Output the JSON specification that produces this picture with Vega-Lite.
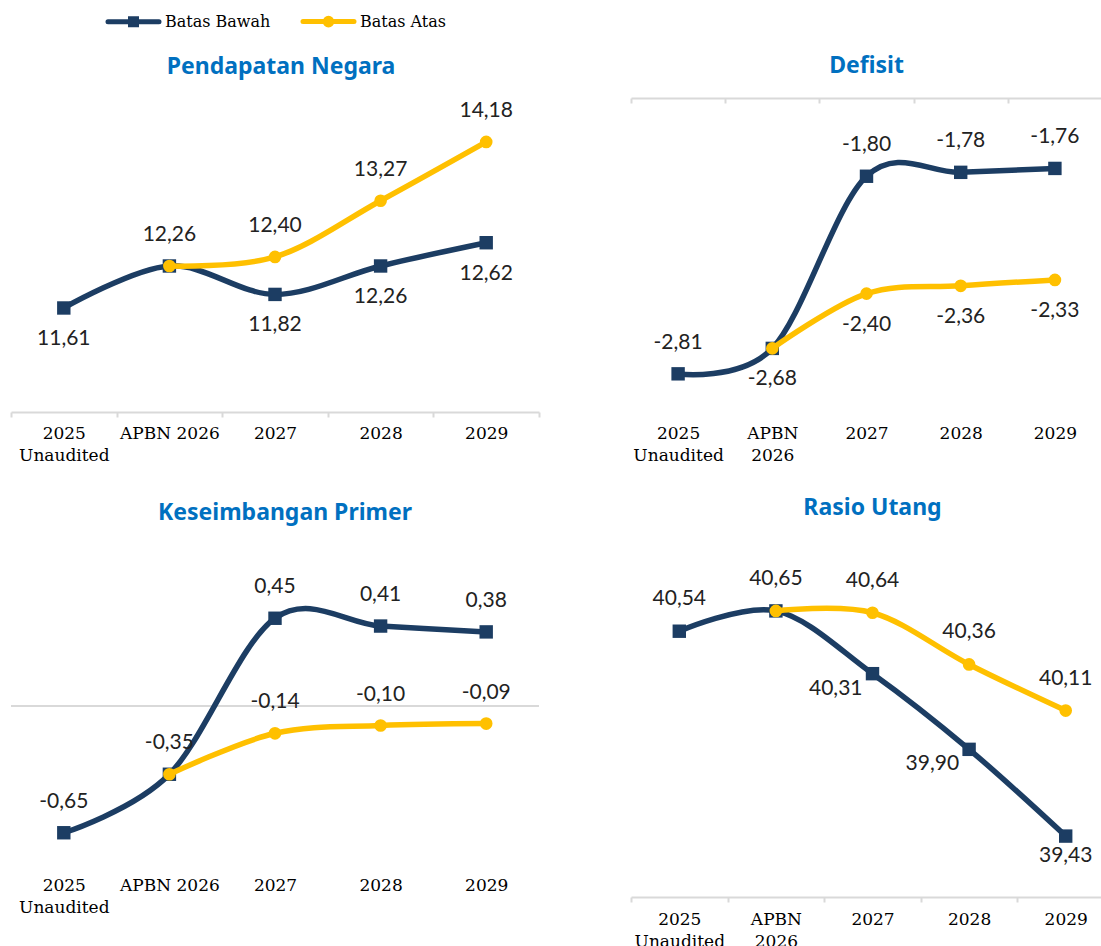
{
  "$schema": "https://vega.github.io/schema/vega-lite/v6.json",
  "padding": {"left": 10, "top": 13, "right": 0, "bottom": 0},
  "background": "white",
  "columns": 2,
  "spacing": {"row": 138, "column": 92},
  "bounds": "flush",
  "config": {
    "view": {"stroke": null},
    "locale": {"number": {"decimal": ",", "thousands": ".", "grouping": [3], "currency": ["", ""], "minus": "-"}},
    "axis": {"labelFont": "DejaVu Serif", "labelFontSize": 17, "labelColor": "#000000", "labelLineHeight": 22, "labelAngle": 0, "domainColor": "#d9d9d9", "domainWidth": 2, "tickColor": "#d9d9d9", "tickWidth": 2, "tickSize": 5, "tickBand": "extent", "title": null, "grid": false, "labelOverlap": false, "labelLimit": 0, "labelPadding": 8},
    "title": {"font": "Noto Sans", "fontSize": 23, "fontWeight": "bold", "color": "#0070c0", "anchor": "middle", "baseline": "bottom"}
  },
  "datasets": {
    "d": [
      {"panel": "P", "cat": "2025 Unaudited", "series": "Batas Bawah", "value": 11.61, "lbl": "below"},
      {"panel": "P", "cat": "APBN 2026", "series": "Batas Bawah", "value": 12.26, "lbl": "above"},
      {"panel": "P", "cat": "2027", "series": "Batas Bawah", "value": 11.82, "lbl": "below"},
      {"panel": "P", "cat": "2028", "series": "Batas Bawah", "value": 12.26, "lbl": "below"},
      {"panel": "P", "cat": "2029", "series": "Batas Bawah", "value": 12.62, "lbl": "below"},
      {"panel": "P", "cat": "APBN 2026", "series": "Batas Atas", "value": 12.26, "lbl": "none"},
      {"panel": "P", "cat": "2027", "series": "Batas Atas", "value": 12.40, "lbl": "above"},
      {"panel": "P", "cat": "2028", "series": "Batas Atas", "value": 13.27, "lbl": "above"},
      {"panel": "P", "cat": "2029", "series": "Batas Atas", "value": 14.18, "lbl": "above"},
      {"panel": "D", "cat": "2025 Unaudited", "series": "Batas Bawah", "value": -2.81, "lbl": "above"},
      {"panel": "D", "cat": "APBN 2026", "series": "Batas Bawah", "value": -2.68, "lbl": "below"},
      {"panel": "D", "cat": "2027", "series": "Batas Bawah", "value": -1.80, "lbl": "above"},
      {"panel": "D", "cat": "2028", "series": "Batas Bawah", "value": -1.78, "lbl": "above"},
      {"panel": "D", "cat": "2029", "series": "Batas Bawah", "value": -1.76, "lbl": "above"},
      {"panel": "D", "cat": "APBN 2026", "series": "Batas Atas", "value": -2.68, "lbl": "none"},
      {"panel": "D", "cat": "2027", "series": "Batas Atas", "value": -2.40, "lbl": "below"},
      {"panel": "D", "cat": "2028", "series": "Batas Atas", "value": -2.36, "lbl": "below"},
      {"panel": "D", "cat": "2029", "series": "Batas Atas", "value": -2.33, "lbl": "below"},
      {"panel": "K", "cat": "2025 Unaudited", "series": "Batas Bawah", "value": -0.65, "lbl": "above"},
      {"panel": "K", "cat": "APBN 2026", "series": "Batas Bawah", "value": -0.35, "lbl": "above"},
      {"panel": "K", "cat": "2027", "series": "Batas Bawah", "value": 0.45, "lbl": "above"},
      {"panel": "K", "cat": "2028", "series": "Batas Bawah", "value": 0.41, "lbl": "above"},
      {"panel": "K", "cat": "2029", "series": "Batas Bawah", "value": 0.38, "lbl": "above"},
      {"panel": "K", "cat": "APBN 2026", "series": "Batas Atas", "value": -0.35, "lbl": "none"},
      {"panel": "K", "cat": "2027", "series": "Batas Atas", "value": -0.14, "lbl": "above"},
      {"panel": "K", "cat": "2028", "series": "Batas Atas", "value": -0.10, "lbl": "above"},
      {"panel": "K", "cat": "2029", "series": "Batas Atas", "value": -0.09, "lbl": "above"},
      {"panel": "R", "cat": "2025 Unaudited", "series": "Batas Bawah", "value": 40.54, "lbl": "above"},
      {"panel": "R", "cat": "APBN 2026", "series": "Batas Bawah", "value": 40.65, "lbl": "above"},
      {"panel": "R", "cat": "2027", "series": "Batas Bawah", "value": 40.31, "lbl": "left"},
      {"panel": "R", "cat": "2028", "series": "Batas Bawah", "value": 39.90, "lbl": "left"},
      {"panel": "R", "cat": "2029", "series": "Batas Bawah", "value": 39.43, "lbl": "near"},
      {"panel": "R", "cat": "APBN 2026", "series": "Batas Atas", "value": 40.65, "lbl": "none"},
      {"panel": "R", "cat": "2027", "series": "Batas Atas", "value": 40.64, "lbl": "above"},
      {"panel": "R", "cat": "2028", "series": "Batas Atas", "value": 40.36, "lbl": "above"},
      {"panel": "R", "cat": "2029", "series": "Batas Atas", "value": 40.11, "lbl": "above"}
    ]
  },
  "concat": [
    {
      "width": 528, "height": 314,
      "title": {"text": "Pendapatan Negara", "offset": 19, "dx": 6},
      "data": {"name": "d"},
      "transform": [{"filter": "datum.panel === 'P'"}],
      "resolve": {"axis": {"x": "independent"}},
      "encoding": {"y": {"field": "value", "type": "quantitative", "scale": {"domain": [10, 14.86], "zero": false, "nice": false}, "axis": null}},
      "layer": [
        {"transform": [{"filter": "datum.series === 'Batas Bawah'"}], "mark": {"type": "line", "interpolate": "cardinal", "strokeWidth": 5.5},
         "encoding": {
           "x": {"field": "cat", "type": "nominal", "sort": ["2025 Unaudited", "APBN 2026", "2027", "2028", "2029"], "scale": {"type": "band", "paddingInner": 0, "paddingOuter": 0}, "bandPosition": 0.5,
                 "axis": {"orient": "bottom", "labelExpr": "datum.value === '2025 Unaudited' ? ['2025', 'Unaudited'] : datum.label", "labelPadding": 8}},
           "color": {"field": "series", "type": "nominal", "scale": {"domain": ["Batas Bawah", "Batas Atas"], "range": ["#1c3d63", "#ffc000"]},
             "legend": {"orient": "none", "legendX": 114, "legendY": -85, "direction": "horizontal", "title": null,
               "labelFont": "DejaVu Serif", "labelFontSize": 16, "labelColor": "#000000", "symbolSize": 144, "symbolStrokeWidth": 5,
               "labelOffset": 23, "columnPadding": 22, "padding": 0,
               "encode": {"symbols": {"update": {
                 "shape": {"signal": "datum.value === 'Batas Bawah' ? 'M-4.25,0H4.25M-0.5,-0.5H0.5V0.5H-0.5Z' : 'M-4.25,0H4.25M0.55,0A0.55,0.55,0,1,1,-0.55,0A0.55,0.55,0,1,1,0.55,0Z'"},
                 "fill": {"signal": "datum.value === 'Batas Bawah' ? '#1c3d63' : '#ffc000'"},
                 "stroke": {"signal": "datum.value === 'Batas Bawah' ? '#1c3d63' : '#ffc000'"},
                 "strokeWidth": {"value": 5}, "strokeCap": {"value": "round"}, "opacity": {"value": 1}, "fillOpacity": {"value": 1}, "strokeOpacity": {"value": 1}
               }}}
             }}
         }},
        {"transform": [{"filter": "datum.series === 'Batas Bawah'"}], "mark": {"type": "point", "shape": "square", "filled": true, "size": 180, "opacity": 1},
         "encoding": {"x": {"field": "cat", "type": "nominal", "sort": ["2025 Unaudited", "APBN 2026", "2027", "2028", "2029"], "bandPosition": 0.5, "axis": null},
           "color": {"field": "series", "type": "nominal", "legend": null}}},
        {"transform": [{"filter": "datum.series === 'Batas Atas'"}], "mark": {"type": "line", "interpolate": "cardinal", "strokeWidth": 5.5},
         "encoding": {"x": {"field": "cat", "type": "nominal", "sort": ["2025 Unaudited", "APBN 2026", "2027", "2028", "2029"], "bandPosition": 0.5, "axis": null},
           "color": {"field": "series", "type": "nominal", "legend": null}}},
        {"transform": [{"filter": "datum.series === 'Batas Atas'"}], "mark": {"type": "point", "shape": "circle", "filled": true, "size": 160, "opacity": 1},
         "encoding": {"x": {"field": "cat", "type": "nominal", "sort": ["2025 Unaudited", "APBN 2026", "2027", "2028", "2029"], "bandPosition": 0.5, "axis": null},
           "color": {"field": "series", "type": "nominal", "legend": null}}},
        {"transform": [{"filter": "datum.lbl === 'above'"}], "mark": {"type": "text", "font": "Lato", "fontSize": 21, "color": "#222222", "baseline": "middle", "dy": -31},
         "encoding": {"x": {"field": "cat", "type": "nominal", "sort": ["2025 Unaudited", "APBN 2026", "2027", "2028", "2029"], "bandPosition": 0.5, "axis": null},
           "text": {"field": "value", "type": "quantitative", "format": ".2f"}}},
        {"transform": [{"filter": "datum.lbl === 'below'"}], "mark": {"type": "text", "font": "Lato", "fontSize": 21, "color": "#222222", "baseline": "middle", "dy": 31},
         "encoding": {"x": {"field": "cat", "type": "nominal", "sort": ["2025 Unaudited", "APBN 2026", "2027", "2028", "2029"], "bandPosition": 0.5, "axis": null},
           "text": {"field": "value", "type": "quantitative", "format": ".2f"}}}
      ]
    },
    {
      "width": 471, "height": 313,
      "title": {"text": "Defisit", "offset": 19},
      "data": {"name": "d"},
      "transform": [{"filter": "datum.panel === 'D'"}],
      "resolve": {"axis": {"x": "independent"}},
      "encoding": {"y": {"field": "value", "type": "quantitative", "scale": {"domain": [-3.0, -1.4], "zero": false, "nice": false}, "axis": null}},
      "layer": [
        {"transform": [{"filter": "datum.series === 'Batas Bawah'"}], "mark": {"type": "line", "interpolate": "cardinal", "strokeWidth": 5.5},
         "encoding": {
           "x": {"field": "cat", "type": "nominal", "sort": ["2025 Unaudited", "APBN 2026", "2027", "2028", "2029"], "scale": {"type": "band", "paddingInner": 0, "paddingOuter": 0}, "bandPosition": 0.5,
                 "axis": {"orient": "bottom", "domain": false, "ticks": false, "labelPadding": 14, "labelExpr": "datum.value === '2025 Unaudited' ? ['2025', 'Unaudited'] : datum.value === 'APBN 2026' ? ['APBN', '2026'] : datum.label"}},
           "color": {"field": "series", "type": "nominal", "legend": null}
         }},
        {"transform": [{"filter": "datum.series === 'Batas Bawah'"}], "mark": {"type": "point", "shape": "square", "filled": true, "size": 180, "opacity": 1},
         "encoding": {"x": {"field": "cat", "type": "nominal", "sort": ["2025 Unaudited", "APBN 2026", "2027", "2028", "2029"], "bandPosition": 0.5,
             "axis": {"orient": "top", "labels": false, "domain": true, "ticks": true, "tickSize": -5}},
           "color": {"field": "series", "type": "nominal", "legend": null}}},
        {"transform": [{"filter": "datum.series === 'Batas Atas'"}], "mark": {"type": "line", "interpolate": "cardinal", "strokeWidth": 5.5},
         "encoding": {"x": {"field": "cat", "type": "nominal", "sort": ["2025 Unaudited", "APBN 2026", "2027", "2028", "2029"], "bandPosition": 0.5, "axis": null},
           "color": {"field": "series", "type": "nominal", "legend": null}}},
        {"transform": [{"filter": "datum.series === 'Batas Atas'"}], "mark": {"type": "point", "shape": "circle", "filled": true, "size": 160, "opacity": 1},
         "encoding": {"x": {"field": "cat", "type": "nominal", "sort": ["2025 Unaudited", "APBN 2026", "2027", "2028", "2029"], "bandPosition": 0.5, "axis": null},
           "color": {"field": "series", "type": "nominal", "legend": null}}},
        {"transform": [{"filter": "datum.lbl === 'above'"}], "mark": {"type": "text", "font": "Lato", "fontSize": 21, "color": "#222222", "baseline": "middle", "dy": -31},
         "encoding": {"x": {"field": "cat", "type": "nominal", "sort": ["2025 Unaudited", "APBN 2026", "2027", "2028", "2029"], "bandPosition": 0.5, "axis": null},
           "text": {"field": "value", "type": "quantitative", "format": ".2f"}}},
        {"transform": [{"filter": "datum.lbl === 'below'"}], "mark": {"type": "text", "font": "Lato", "fontSize": 21, "color": "#222222", "baseline": "middle", "dy": 31},
         "encoding": {"x": {"field": "cat", "type": "nominal", "sort": ["2025 Unaudited", "APBN 2026", "2027", "2028", "2029"], "bandPosition": 0.5, "axis": null},
           "text": {"field": "value", "type": "quantitative", "format": ".2f"}}}
      ]
    },
    {
      "width": 528, "height": 312,
      "title": {"text": "Keseimbangan Primer", "offset": 25, "dx": 10},
      "data": {"name": "d"},
      "transform": [{"filter": "datum.panel === 'K'"}],
      "resolve": {"axis": {"x": "independent"}},
      "encoding": {"y": {"field": "value", "type": "quantitative", "scale": {"domain": [-0.8, 0.8], "zero": false, "nice": false}, "axis": null}},
      "layer": [
        {"mark": {"type": "rule", "color": "#d9d9d9", "strokeWidth": 2}, "encoding": {"y": {"datum": 0}}},
        {"transform": [{"filter": "datum.series === 'Batas Bawah'"}], "mark": {"type": "line", "interpolate": "cardinal", "strokeWidth": 5.5},
         "encoding": {
           "x": {"field": "cat", "type": "nominal", "sort": ["2025 Unaudited", "APBN 2026", "2027", "2028", "2029"], "scale": {"type": "band", "paddingInner": 0, "paddingOuter": 0}, "bandPosition": 0.5,
                 "axis": {"orient": "bottom", "domain": false, "ticks": false, "labelPadding": 15, "labelExpr": "datum.value === '2025 Unaudited' ? ['2025', 'Unaudited'] : datum.label"}},
           "color": {"field": "series", "type": "nominal", "legend": null}
         }},
        {"transform": [{"filter": "datum.series === 'Batas Bawah'"}], "mark": {"type": "point", "shape": "square", "filled": true, "size": 180, "opacity": 1},
         "encoding": {"x": {"field": "cat", "type": "nominal", "sort": ["2025 Unaudited", "APBN 2026", "2027", "2028", "2029"], "bandPosition": 0.5, "axis": null},
           "color": {"field": "series", "type": "nominal", "legend": null}}},
        {"transform": [{"filter": "datum.series === 'Batas Atas'"}], "mark": {"type": "line", "interpolate": "cardinal", "strokeWidth": 5.5},
         "encoding": {"x": {"field": "cat", "type": "nominal", "sort": ["2025 Unaudited", "APBN 2026", "2027", "2028", "2029"], "bandPosition": 0.5, "axis": null},
           "color": {"field": "series", "type": "nominal", "legend": null}}},
        {"transform": [{"filter": "datum.series === 'Batas Atas'"}], "mark": {"type": "point", "shape": "circle", "filled": true, "size": 160, "opacity": 1},
         "encoding": {"x": {"field": "cat", "type": "nominal", "sort": ["2025 Unaudited", "APBN 2026", "2027", "2028", "2029"], "bandPosition": 0.5, "axis": null},
           "color": {"field": "series", "type": "nominal", "legend": null}}},
        {"transform": [{"filter": "datum.lbl === 'above'"}], "mark": {"type": "text", "font": "Lato", "fontSize": 21, "color": "#222222", "baseline": "middle", "dy": -31},
         "encoding": {"x": {"field": "cat", "type": "nominal", "sort": ["2025 Unaudited", "APBN 2026", "2027", "2028", "2029"], "bandPosition": 0.5, "axis": null},
           "text": {"field": "value", "type": "quantitative", "format": ".2f"}}}
      ]
    },
    {
      "width": 483, "height": 347,
      "title": {"text": "Rasio Utang", "offset": 30},
      "data": {"name": "d"},
      "transform": [{"filter": "datum.panel === 'R'"}],
      "resolve": {"axis": {"x": "independent"}},
      "encoding": {"y": {"field": "value", "type": "quantitative", "scale": {"domain": [39.1, 40.98], "zero": false, "nice": false}, "axis": null}},
      "layer": [
        {"transform": [{"filter": "datum.series === 'Batas Bawah'"}], "mark": {"type": "line", "interpolate": "cardinal", "strokeWidth": 5.5},
         "encoding": {
           "x": {"field": "cat", "type": "nominal", "sort": ["2025 Unaudited", "APBN 2026", "2027", "2028", "2029"], "scale": {"type": "band", "paddingInner": 0, "paddingOuter": 0}, "bandPosition": 0.5,
                 "axis": {"orient": "bottom", "labelPadding": 9, "labelExpr": "datum.value === '2025 Unaudited' ? ['2025', 'Unaudited'] : datum.value === 'APBN 2026' ? ['APBN', '2026'] : datum.label"}},
           "color": {"field": "series", "type": "nominal", "legend": null}
         }},
        {"transform": [{"filter": "datum.series === 'Batas Bawah'"}], "mark": {"type": "point", "shape": "square", "filled": true, "size": 180, "opacity": 1},
         "encoding": {"x": {"field": "cat", "type": "nominal", "sort": ["2025 Unaudited", "APBN 2026", "2027", "2028", "2029"], "bandPosition": 0.5, "axis": null},
           "color": {"field": "series", "type": "nominal", "legend": null}}},
        {"transform": [{"filter": "datum.series === 'Batas Atas'"}], "mark": {"type": "line", "interpolate": "cardinal", "strokeWidth": 5.5},
         "encoding": {"x": {"field": "cat", "type": "nominal", "sort": ["2025 Unaudited", "APBN 2026", "2027", "2028", "2029"], "bandPosition": 0.5, "axis": null},
           "color": {"field": "series", "type": "nominal", "legend": null}}},
        {"transform": [{"filter": "datum.series === 'Batas Atas'"}], "mark": {"type": "point", "shape": "circle", "filled": true, "size": 160, "opacity": 1},
         "encoding": {"x": {"field": "cat", "type": "nominal", "sort": ["2025 Unaudited", "APBN 2026", "2027", "2028", "2029"], "bandPosition": 0.5, "axis": null},
           "color": {"field": "series", "type": "nominal", "legend": null}}},
        {"transform": [{"filter": "datum.lbl === 'above'"}], "mark": {"type": "text", "font": "Lato", "fontSize": 21, "color": "#222222", "baseline": "middle", "dy": -32},
         "encoding": {"x": {"field": "cat", "type": "nominal", "sort": ["2025 Unaudited", "APBN 2026", "2027", "2028", "2029"], "bandPosition": 0.5, "axis": null},
           "text": {"field": "value", "type": "quantitative", "format": ".2f"}}},
        {"transform": [{"filter": "datum.lbl === 'left'"}], "mark": {"type": "text", "font": "Lato", "fontSize": 21, "color": "#222222", "baseline": "middle", "align": "right", "dx": -10, "dy": 15},
         "encoding": {"x": {"field": "cat", "type": "nominal", "sort": ["2025 Unaudited", "APBN 2026", "2027", "2028", "2029"], "bandPosition": 0.5, "axis": null},
           "text": {"field": "value", "type": "quantitative", "format": ".2f"}}},
        {"transform": [{"filter": "datum.lbl === 'near'"}], "mark": {"type": "text", "font": "Lato", "fontSize": 21, "color": "#222222", "baseline": "middle", "dy": 20},
         "encoding": {"x": {"field": "cat", "type": "nominal", "sort": ["2025 Unaudited", "APBN 2026", "2027", "2028", "2029"], "bandPosition": 0.5, "axis": null},
           "text": {"field": "value", "type": "quantitative", "format": ".2f"}}}
      ]
    }
  ]
}
